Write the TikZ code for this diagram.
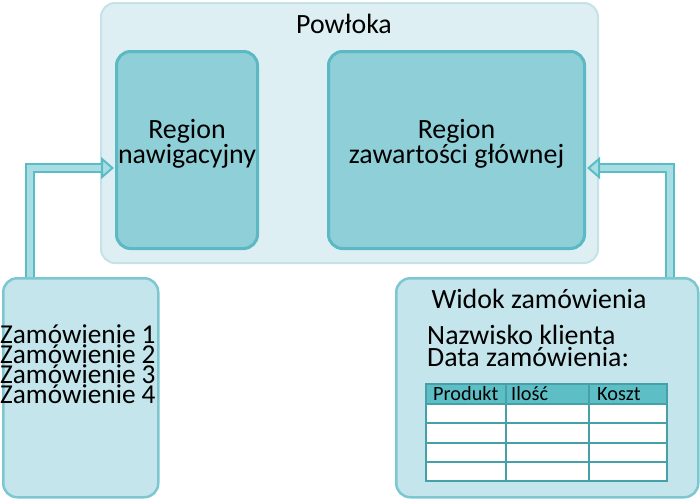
\documentclass[tikz,border=0pt]{standalone}
\usepackage{fontspec}
\setmainfont{Carlito}
\usetikzlibrary{arrows.meta}
\definecolor{shellfill}{RGB}{221,239,243}
\definecolor{shellline}{RGB}{196,226,232}
\definecolor{regionfill}{RGB}{142,207,216}
\definecolor{regionline}{RGB}{92,184,194}
\definecolor{panelfill}{RGB}{195,229,235}
\definecolor{panelline}{RGB}{125,199,209}
\definecolor{pipeline}{RGB}{90,189,198}
\definecolor{pipefill}{RGB}{168,221,228}
\definecolor{headfill}{RGB}{93,190,198}
\definecolor{gridline}{RGB}{70,160,168}

% one pixel of the 700x498 layout
\newlength{\px}
\setlength{\px}{0.03cm}
\newcommand{\bigtext}{\fontsize{23.8}{19}\selectfont}
\newcommand{\listtext}{\fontsize{23.3}{16.2}\selectfont}
\newcommand{\celltext}{\fontsize{17.3}{18}\selectfont}

\tikzset{
  box/.style={rounded corners=14\px, inner sep=0pt, anchor=north west},
  shellbox/.style={box, draw=shellline, fill=shellfill, line width=2\px},
  regionbox/.style={box, draw=regionline, fill=regionfill, line width=3\px,
    align=center, font=\bigtext, text depth=17\px},
  panelbox/.style={box, draw=panelline, fill=panelfill, line width=2.5\px},
  pipe/.style={line width=2\px, draw=pipeline, double=pipefill,
    double distance=6\px,
    -{Triangle[length=0.39cm, width=0.66cm, fill=pipefill]}},
  cell/.style={font=\celltext, anchor=west, inner sep=0pt}
}

\begin{document}
\begin{tikzpicture}[x=0.03cm, y=-0.03cm]

% Canvas
\useasboundingbox (0,0) rectangle (700,498);

% Shell with its two regions
\node[shellbox, minimum width=497\px, minimum height=260\px] (shell) at (100,2) {};
\node[font=\bigtext] (shelltitle) at (344,24) {Powłoka};
\node[regionbox, minimum width=141\px, minimum height=197\px] (nav) at (115,50)
  {Region\\nawigacyjny};
\node[regionbox, minimum width=256\px, minimum height=197\px] (main) at (327,50)
  {Region\\zawartości głównej};

% Views below
\node[panelbox, minimum width=155\px, minimum height=219\px] (orders) at (2,277) {};
\node[panelbox, minimum width=302\px, minimum height=219\px] (detail) at (395,277) {};

% Order list
\node[font=\listtext, anchor=west, align=left, inner sep=0pt] (orderlist) at (0,364)
  {Zamówienie 1\\Zamówienie 2\\Zamówienie 3\\Zamówienie 4};

% Order view
\node[font=\bigtext] (detailtitle) at (539,299) {Widok zamówienia};
\node[font=\bigtext, anchor=west, align=left, inner sep=0pt] (customer) at (427,346)
  {Nazwisko klienta\\Data zamówienia:};

% Table
\fill[white] (426,404) rectangle (667,481);
\fill[headfill] (426,384) rectangle (667,404);
\foreach \y in {404,423,443,462} {
    \draw[gridline, line width=1.5\px] (426,\y) -- (667,\y);
}
\foreach \x in {506,589} {
    \draw[gridline, line width=1.5\px] (\x,384) -- (\x,481);
}
\draw[gridline, line width=2\px] (426,384) rectangle (667,481);
\foreach \x/\name/\id in {433/Produkt/prod, 511/Ilość/qty, 597/Koszt/cost} {
    \node[cell] (\id) at (\x,394) {\name};
}

% Pipes into the regions
\coordinate (ordersout) at ([xshift=28\px]orders.north west);
\coordinate (navin) at ([xshift=-1\px]nav.west |- 0,168);
\draw[pipe] (ordersout) |- (navin);
\coordinate (detailout) at ([xshift=-30\px]detail.north east);
\coordinate (mainin) at ([xshift=1\px]main.east |- 0,168);
\draw[pipe] (detailout) |- (mainin);

\end{tikzpicture}
\end{document}
